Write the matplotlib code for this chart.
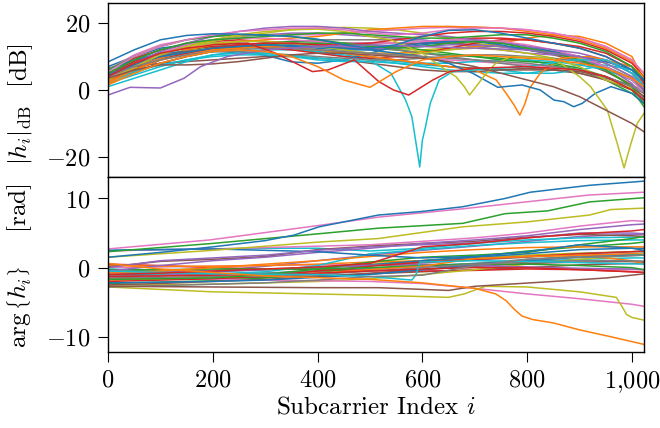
import matplotlib
matplotlib.use("Agg")
import matplotlib.pyplot as plt
from matplotlib.ticker import FuncFormatter, FixedLocator

plt.rcParams['font.family'] = 'serif'
plt.rcParams['font.serif'] = ['cmr10', 'DejaVu Serif']
plt.rcParams['mathtext.fontset'] = 'cm'
plt.rcParams['axes.unicode_minus'] = False

# ---------------- data: magnitude |h_i| in dB ----------------
mag_grid = [0, 50, 100, 150, 200, 250, 300, 350, 400, 450, 500, 550, 600, 650,
            700, 750, 800, 850, 900, 950, 1000, 1023]

mag_blue1 = [8.4, 12, 15, 16.3, 16.8, 16.7, 16.4, 16, 15.2, 13.5, 12.5, 13.5, 16, 17.8, 18, 17, 15.5, 14, 12.5, 10, 6, 3]
mag_orange1 = [1.5, 5, 8, 10, 11.5, 12, 11.5, 10, 7, 3, 0.8, 5.5, 9, 10, 10.5, 10, 9.5, 9, 8, 6.5, 3.5, 1]
mag_green1 = [5, 9, 12, 14, 15, 15.5, 16, 16.5, 17, 17, 16.5, 16, 15.5, 15.5, 16, 16.5, 16.5, 15.5, 14, 11.5, 7, 3]
mag_red1_x = [0, 50, 100, 150, 200, 267, 320, 390, 420, 470, 517, 545, 574, 620, 652, 700, 800, 900, 950, 1000, 1023]
mag_red1 = [4, 8, 11, 12.5, 13.5, 14, 11, 5.5, 6, 9, 2.5, 0, -1.5, 3, 5.5, 6.5, 7, 6, 4, 0, -3]
mag_purple1_x = [0, 42, 100, 145, 177, 228, 300, 400, 500, 600, 700, 800, 900, 950, 1000, 1023]
mag_purple1 = [-1.5, 0.8, 0.6, 3.5, 7, 10, 12, 13, 13.5, 13, 12.5, 12, 10, 8, 4, 0]
mag_brown1 = [3.5, 6, 7.5, 7.5, 7.8, 8.5, 9.5, 10.5, 11, 11, 10.5, 10, 9.5, 8.5, 7, 5, 3, 1, -2, -6, -10, -12.5]
mag_pink1 = [5.5, 10, 13, 15, 16.5, 17.5, 18, 18.5, 18.5, 18, 17, 16.5, 17, 18, 18.5, 18.5, 18, 17, 15.5, 13, 9, 5]
mag_gray1 = [4, 7, 9, 10.5, 11.5, 12, 12.5, 12.5, 12, 11.5, 11, 10.5, 10, 9.5, 9, 8.5, 8, 7, 6, 4, 1, -1]
mag_olive1_x = [0, 50, 100, 150, 200, 250, 300, 350, 400, 450, 500, 540, 600, 640, 664, 680, 690,
                700, 717, 740, 770, 850, 900, 921, 953, 972, 985, 998, 1010, 1023]
mag_olive1 = [3, 7, 10.5, 13, 15, 16.5, 17.5, 18, 18.2, 17.5, 16, 15, 11, 6.5, 4, 1, -1.5,
              0.5, 4, 8, 10, 9.5, 4, 1, -6, -16, -23.3, -16, -10, -7]
mag_cyan1_x = [0, 50, 100, 150, 200, 250, 300, 400, 450, 504, 540, 568, 580, 587, 595, 600, 606,
               615, 632, 658, 700, 800, 888, 952, 1000, 1023]
mag_cyan1 = [1, 3.5, 6, 8.5, 10.5, 11, 11, 9.5, 9, 8.4, 5, -3, -8, -15, -23, -15, -11,
             -4, 3, 5.5, 6, 7, 9, 9, 5, 1]

mag_blue2_x = [0, 50, 100, 200, 300, 400, 500, 600, 650, 696, 744, 790, 825, 851, 870, 889, 905,
               930, 960, 1000, 1023]
mag_blue2 = [4.5, 7.5, 10, 12.5, 13.5, 13, 12, 10, 8, 5, 0.8, 1.5, 0, -3, -3.5, -5, -4,
             -1, 1, -1, -4]
mag_orange2_x = [0, 50, 100, 200, 300, 400, 500, 600, 650, 700, 741, 760, 775, 786, 796, 805,
                 825, 863, 921, 1000, 1023]
mag_orange2 = [2.5, 6, 9, 12, 13, 12, 10, 8, 7, 6, 3, -1, -4.5, -7.5, -4, 0.6,
               5, 9.5, 10, 7, 4]
mag_green2 = [6, 10, 13, 15, 16, 16.5, 16.5, 16, 15, 14, 13, 12.5, 13, 14, 14.5, 14, 12.5, 11, 9, 6, 1, -4]
mag_red2 = [3, 6, 9, 11, 12.5, 13.5, 14, 14, 13.5, 13.5, 14, 15, 16, 17, 17.5, 17.5, 17, 16, 14.5, 12, 8, 4]
mag_purple2 = [4, 8, 11.5, 14, 16, 17.5, 18.5, 19, 19, 18.5, 17.5, 17, 16.5, 16, 15, 14, 13, 12, 11, 9, 5, 1]
mag_brown2 = [5, 8, 10, 11.5, 12.5, 13, 13, 12.5, 12, 11, 10, 9, 8, 7, 6.5, 6, 6, 6, 5.5, 4, 1, -2]
mag_pink2 = [3.5, 7.5, 11, 13.5, 15, 15.5, 15.5, 15, 14.5, 14, 14, 14, 14.5, 15, 15, 14.5, 13.5, 12, 10, 7, 3, -1]
mag_gray2 = [5, 8, 10, 11, 11.5, 11.5, 11, 10.5, 10, 9.5, 9, 9, 9.5, 10, 10.5, 10.5, 10, 9.5, 8.5, 6.5, 3, 0]
mag_olive2 = [4, 8, 11, 13, 14, 14.5, 14.5, 14, 13, 12, 11, 10.5, 11, 12, 12.5, 12, 11, 9.5, 7, 3, 0.5, -2]
mag_cyan2 = [3, 5.5, 7.5, 9, 10, 10.5, 10.5, 10, 9, 8.5, 8.5, 8, 7.5, 7, 6.5, 6, 5, 5, 6, 7.5, 6, 1]

mag_blue3 = [6, 9, 11, 11.5, 11.5, 11.4, 10.4, 8.4, 8, 9, 11, 13, 14, 14.5, 14.5, 13.5, 12, 11, 10, 8.5, 6, 3]
mag_orange3 = [2, 6, 9.5, 12, 13.5, 14.5, 15, 15.5, 16, 17, 18, 18.5, 19, 19, 18.8, 18.5, 17.5, 16.5, 15, 12.5, 8.5, 5]
mag_green3 = [2.5, 6, 9, 11, 12.5, 13, 13.5, 14, 14, 14, 13.5, 13, 12, 11, 10, 9, 8.5, 8, 6.5, 4, 0, -5]
mag_red3 = [5, 8.5, 11, 12.5, 13, 13, 12.5, 12, 11, 10, 9.5, 10, 11, 12.5, 14, 15, 15, 14, 12.5, 10, 6, 1]
mag_purple3 = [3, 6, 9, 11, 12.5, 13.5, 14, 14, 13.5, 13, 12.5, 12.5, 13, 13.5, 13.5, 13, 12, 11, 9, 7, 2, -3]
mag_brown3 = [4.5, 7, 8, 8.5, 9, 9.5, 10, 10, 9.5, 9, 8, 7, 6, 5.5, 5.5, 6, 6.5, 6, 5, 3, 0, -2]
mag_pink3 = [6, 10.5, 13.5, 15, 16, 16.5, 16.5, 16.5, 16.5, 17, 17.5, 18, 18.5, 18.7, 18.8, 18.5, 18, 17, 15.5, 13, 9, 3]
mag_gray3 = [6.5, 9, 10.5, 11.5, 12, 12.5, 13, 13.5, 13.5, 13, 12.5, 12, 11, 10, 9, 8, 7, 6, 5, 3.5, 1.5, -0.5]
mag_olive3 = [5, 8.5, 11, 13, 14.5, 16, 17, 18, 18.5, 18.7, 18.5, 18, 17, 15.5, 14, 13, 12, 11, 10, 8, 4, 0]
mag_cyan3 = [2, 4.5, 7, 9, 10.5, 11.5, 12, 12, 11.5, 10.5, 9.5, 8.5, 8, 8, 8.5, 9, 9, 8.5, 7.5, 6, 3, 0]

mag_blue4 = [7, 10, 12.5, 13.5, 14, 14, 13.5, 13, 12.5, 12, 12, 12.5, 13.5, 14.5, 15, 14.5, 13, 11.5, 10, 7, 3, 0]
mag_orange4 = [4, 7, 10, 11.5, 12.5, 13, 13, 12.5, 12, 11.5, 11, 11, 11.5, 12, 13, 14, 15.5, 16.5, 16, 14, 10, 3]
mag_green4 = [4, 7.5, 10, 12, 13, 13.5, 14, 14.5, 14.5, 14, 13, 12, 11, 10.5, 10, 9.5, 9, 7.5, 6, 3, -1, -4]
mag_red4 = [6, 9.5, 12, 13.5, 14.5, 15, 14.5, 14, 13, 12.5, 12.5, 13, 14, 15, 15.5, 15.5, 15, 14, 13, 11, 7, 2]
mag_purple4 = [5, 9, 12, 14, 15, 16, 16.5, 17, 17, 16.5, 16, 15.5, 15, 14, 13, 12, 11, 10.5, 10, 9, 5, 0]
mag_brown4 = [3, 5.5, 8, 10, 11.5, 12.5, 13, 13.5, 14, 14, 14, 14, 14, 14, 13.5, 13, 12, 10.5, 8.5, 5.5, 1.5, -3]
mag_pink4 = [4.5, 8, 11, 13, 14, 14.5, 14.5, 14, 13, 12, 11, 10, 9.5, 9, 8.5, 8, 7.5, 7, 6, 4, 1, -2]
mag_gray4 = [4, 7, 9.5, 11, 12, 13, 14, 14.5, 15, 15, 15, 15, 14.5, 14, 13.5, 13, 12.5, 11.5, 10, 7, 3.5, 0]
mag_olive4 = [3.5, 6.5, 9, 11, 12.5, 13.5, 14, 14, 13.5, 13, 12.5, 12, 12, 12.5, 13, 13, 12.5, 11.5, 9.5, 6, 1.5, -3]
mag_cyan4 = [2.5, 5, 8, 10, 11.5, 12.5, 13, 12.5, 11.5, 10, 9, 8, 7, 6, 5.5, 5, 5, 6, 7.5, 8.5, 7, 2]

# ---------------- data: phase arg{h_i} in rad ----------------
ph_grid = [0, 100, 200, 300, 400, 500, 600, 700, 800, 900, 1000, 1023]

ph_blue1_x = [0, 100, 200, 300, 355, 403, 516, 597, 677, 758, 806, 919, 1023]
ph_blue1 = [1.5, 2.2, 3.0, 3.9, 4.7, 5.9, 7.6, 8.1, 8.8, 10, 10.9, 11.9, 12.5]
ph_orange1_x = [0, 100, 300, 500, 600, 700, 740, 760, 775, 790, 810, 850, 900, 960, 1023]
ph_orange1 = [0.6, -0.2, -1.2, -1.7, -2.2, -3.0, -3.8, -4.8, -6.0, -7.0, -7.5, -8.0, -9.0, -10, -11.1]
ph_green1_x = [0, 200, 403, 516, 677, 758, 839, 919, 1023]
ph_green1 = [2.3, 3.5, 4.9, 5.7, 6.4, 7.8, 8.2, 9.5, 10.1]
ph_red1 = [-1.0, -0.8, -0.5, -0.2, 0.1, 0.6, 3.0, 3.5, 4.3, 4.9, 5.3, 5.5]
ph_purple1 = [0, 1.0, 1.4, 1.8, 2.5, 3.0, 3.3, 3.6, 4.3, 5.0, 5.0, 4.9]
ph_brown1_x = [0, 200, 400, 516, 650, 700, 850, 950, 1023]
ph_brown1 = [-2.7, -2.8, -2.9, -2.9, -3.3, -2.7, -2.0, -1.5, -0.9]
ph_pink1_x = [0, 194, 403, 516, 677, 798, 919, 1023]
ph_pink1 = [2.7, 4.0, 6.1, 7.3, 8.5, 9.5, 10.5, 10.9]
ph_gray1 = [-2.8, -2.6, -2.4, -2.2, -1.8, -1.3, -1.1, 0.3, 1.2, 1.5, 1.7, 1.8]
ph_olive1_x = [0, 200, 403, 516, 677, 798, 919, 960, 1023]
ph_olive1 = [1.5, 2.5, 3.7, 4.2, 5.9, 6.6, 7.6, 8.4, 8.6]
ph_cyan1_x = [0, 200, 400, 500, 580, 588, 595, 700, 800, 1023]
ph_cyan1 = [-0.5, -0.9, -1.0, -1.3, -1.8, -1.0, 0.8, 1.0, 0.9, 0.5]

ph_blue2 = [2.5, 2.6, 2.7, 2.5, 2.3, 1.8, 1.4, 1.6, 2.3, 3.3, 2.8, 2.5]
ph_orange2 = [-0.8, -0.5, 0, 0.5, 1.0, 1.6, 2.2, 2.6, 2.9, 3.0, 3.0, 3.0]
ph_green2 = [-1.7, -1.6, -1.5, -1.0, -0.2, 0.8, 1.5, 1.8, 2.2, 3.3, 4.2, 4.5]
ph_red2 = [-1.3, -1.2, -1.1, -1.0, -0.8, -0.5, -0.2, 0.0, 0.0, -0.3, -0.6, -0.7]
ph_purple2 = [-0.5, 0.3, 1.0, 1.5, 2.2, 2.8, 3.5, 4.0, 4.6, 5.5, 6.2, 6.3]
ph_brown2 = [0.1, 0.9, 1.2, 1.6, 2.6, 3.1, 3.5, 3.8, 4.4, 4.8, 4.6, 4.5]
ph_pink2 = [2.4, 2.6, 2.7, 2.9, 3.1, 3.3, 3.8, 4.3, 5.0, 6.0, 6.8, 6.7]
ph_gray2 = [-1.5, -1.4, -1.3, -1.2, -1.0, -0.5, 0.0, 0.5, 0.8, 1.0, 1.0, 0.9]
ph_olive2_x = [0, 200, 516, 650, 680, 720, 800, 900, 970, 980, 990, 1000, 1023]
ph_olive2 = [-2.8, -3.5, -4.0, -4.3, -3.8, -2.7, -2.8, -3.5, -4.3, -5.5, -6.8, -7.2, -7.6]
ph_cyan2 = [2.5, 2.6, 2.7, 2.8, 2.8, 2.4, 2.8, 3.5, 4.0, 4.3, 4.4, 4.4]

ph_blue3 = [-2.2, -2.1, -2.0, -1.8, -1.4, -1.0, -0.3, 0.5, 1.0, 1.5, 1.8, 1.8]
ph_orange3 = [-1.8, -1.6, -1.4, -1.1, -0.8, -0.3, 0.2, 1.3, 1.6, 1.8, 1.0, 0.5]
ph_green3 = [-0.3, -0.3, -0.2, -0.2, -0.2, 0.0, 0.3, 0.5, 0.5, 0.3, 0.0, -0.3]
ph_red3 = [-2.0, -1.8, -1.6, -1.2, -0.5, 0.2, 0.8, 1.2, 1.6, 2.0, 2.3, 2.4]
ph_purple3 = [-0.8, -0.7, -0.5, -0.3, 0, 0.3, 0.5, 0.3, 0.1, -0.1, -0.2, -0.3]
ph_brown3 = [-2.5, -2.3, -2.0, -1.7, -1.3, -0.8, -0.3, 0.2, 0.6, 0.8, 0.9, 0.9]
ph_pink3 = [-1.5, -1.6, -1.7, -1.8, -1.9, -2.0, -2.3, -3.0, -3.8, -4.5, -5.3, -5.6]
ph_gray3 = [-0.5, -0.5, -0.4, -0.2, 0.0, 0.3, 0.7, 1.1, 1.5, 2.0, 2.3, 2.4]
ph_olive3 = [-2.5, -2.5, -2.4, -2.2, -2.0, -1.6, -1.0, -0.3, 0.5, 1.2, 1.8, 2.0]
ph_cyan3 = [-0.2, -0.5, -0.9, -0.6, 0.3, 2.0, 2.6, 3.2, 3.6, 3.9, 4.0, 4.0]

ph_blue4 = [-1.0, -0.8, -0.6, -0.3, 0.0, 0.4, 1.0, 1.5, 2.0, 2.6, 2.8, 2.8]
ph_orange4 = [0.3, 0.2, 0.2, 0.3, 0.5, 0.8, 1.0, 1.3, 1.6, 1.8, 2.0, 2.0]
ph_green4 = [-2.3, -2.1, -1.9, -1.5, -0.8, 0.3, 1.0, 1.6, 2.4, 3.0, 3.5, 3.7]
ph_red4 = [0.5, 0.3, 0.0, -0.2, -0.3, -0.4, -0.5, -0.4, -0.2, -0.3, -0.6, -0.7]
ph_purple4 = [-2.0, -1.2, -0.5, 0.2, 1.0, 1.8, 2.5, 3.1, 3.8, 4.5, 4.8, 4.8]
ph_brown4 = [-1.8, -1.7, -1.6, -1.4, -1.2, -0.9, -0.6, -0.3, 0.0, 0.4, 0.6, 0.7]
ph_pink4 = [0.0, 0.1, 0.2, 0.3, 0.4, 0.4, 0.3, 0.1, 0.0, -0.2, -0.3, -0.3]
ph_gray4 = [-1.2, -1.1, -1.0, -0.8, -0.5, -0.2, 0.2, 0.6, 1.2, 1.7, 2.0, 2.1]
ph_olive4 = [-0.7, -0.6, -0.5, -0.3, 0.0, 0.5, 1.0, 1.4, 1.8, 2.1, 2.3, 2.3]
ph_cyan4 = [-1.0, -1.0, -1.0, -0.8, -0.5, -0.1, 0.3, 0.6, 0.9, 1.2, 1.4, 1.4]

x_ticks = [0, 200, 400, 600, 800, 1000]
mag_ticks = [-20, 0, 20]
ph_ticks = [-10, 0, 10]

# ---------------- assemble ----------------
G = mag_grid
mag_curves = [
    (G, mag_blue1), (G, mag_orange1), (G, mag_green1), (mag_red1_x, mag_red1),
    (mag_purple1_x, mag_purple1), (G, mag_brown1), (G, mag_pink1), (G, mag_gray1),
    (mag_olive1_x, mag_olive1), (mag_cyan1_x, mag_cyan1),
    (mag_blue2_x, mag_blue2), (mag_orange2_x, mag_orange2), (G, mag_green2), (G, mag_red2),
    (G, mag_purple2), (G, mag_brown2), (G, mag_pink2), (G, mag_gray2), (G, mag_olive2), (G, mag_cyan2),
    (G, mag_blue3), (G, mag_orange3), (G, mag_green3), (G, mag_red3), (G, mag_purple3),
    (G, mag_brown3), (G, mag_pink3), (G, mag_gray3), (G, mag_olive3), (G, mag_cyan3),
    (G, mag_blue4), (G, mag_orange4), (G, mag_green4), (G, mag_red4), (G, mag_purple4),
    (G, mag_brown4), (G, mag_pink4), (G, mag_gray4), (G, mag_olive4), (G, mag_cyan4),
]
P = ph_grid
ph_curves = [
    (ph_blue1_x, ph_blue1), (ph_orange1_x, ph_orange1), (ph_green1_x, ph_green1), (P, ph_red1),
    (P, ph_purple1), (ph_brown1_x, ph_brown1), (ph_pink1_x, ph_pink1), (P, ph_gray1),
    (ph_olive1_x, ph_olive1), (ph_cyan1_x, ph_cyan1),
    (P, ph_blue2), (P, ph_orange2), (P, ph_green2), (P, ph_red2), (P, ph_purple2),
    (P, ph_brown2), (P, ph_pink2), (P, ph_gray2), (ph_olive2_x, ph_olive2), (P, ph_cyan2),
    (P, ph_blue3), (P, ph_orange3), (P, ph_green3), (P, ph_red3), (P, ph_purple3),
    (P, ph_brown3), (P, ph_pink3), (P, ph_gray3), (P, ph_olive3), (P, ph_cyan3),
    (P, ph_blue4), (P, ph_orange4), (P, ph_green4), (P, ph_red4), (P, ph_purple4),
    (P, ph_brown4), (P, ph_pink4), (P, ph_gray4), (P, ph_olive4), (P, ph_cyan4),
]

fig = plt.figure(figsize=(6.6, 4.28), dpi=100)
ax1 = fig.add_axes([108/660, (428-177)/428, 536/660, 174/428])
ax2 = fig.add_axes([108/660, (428-352)/428, 536/660, 175/428])

# draw in reverse set order so the first set is on top
for k in reversed(range(len(mag_curves))):
    xs, ys = mag_curves[k]
    ax1.plot(xs, ys, color='C%d' % (k % 10), lw=1.1)
for k in reversed(range(len(ph_curves))):
    xs, ys = ph_curves[k]
    ax2.plot(xs, ys, color='C%d' % (k % 10), lw=1.1)

def fmt(v, pos):
    s = '{:,.0f}'.format(v).replace(',', '{,}')
    return '$' + s + '$'

for ax in (ax1, ax2):
    ax.set_xlim(0, 1023)
    ax.xaxis.set_major_locator(FixedLocator(x_ticks))
    ax.xaxis.set_major_formatter(FuncFormatter(fmt))
    ax.yaxis.set_major_formatter(FuncFormatter(fmt))
    ax.tick_params(direction='out', length=7.5, width=0.8, labelsize=17.5, pad=5)
    for sp in ax.spines.values():
        sp.set_linewidth(1.0)

ax1.set_ylim(-26, 26)
ax1.yaxis.set_major_locator(FixedLocator(mag_ticks))
ax1.tick_params(axis='x', labelbottom=False)
ax2.set_ylim(-12.2, 13.1)
ax2.yaxis.set_major_locator(FixedLocator(ph_ticks))

ax1.set_ylabel(r'$|h_i|_{\mathrm{dB}}$' + '  [dB]', fontsize=18)
ax2.set_ylabel(r'$\arg\left\{h_i\right\}$' + '    [rad]', fontsize=18)
ax1.yaxis.set_label_coords(-0.137, 0.42)
ax2.yaxis.set_label_coords(-0.137, 0.49)
ax2.set_xlabel(r'Subcarrier Index $i$', fontsize=18, labelpad=1)

fig.savefig('out.png', dpi=100)
